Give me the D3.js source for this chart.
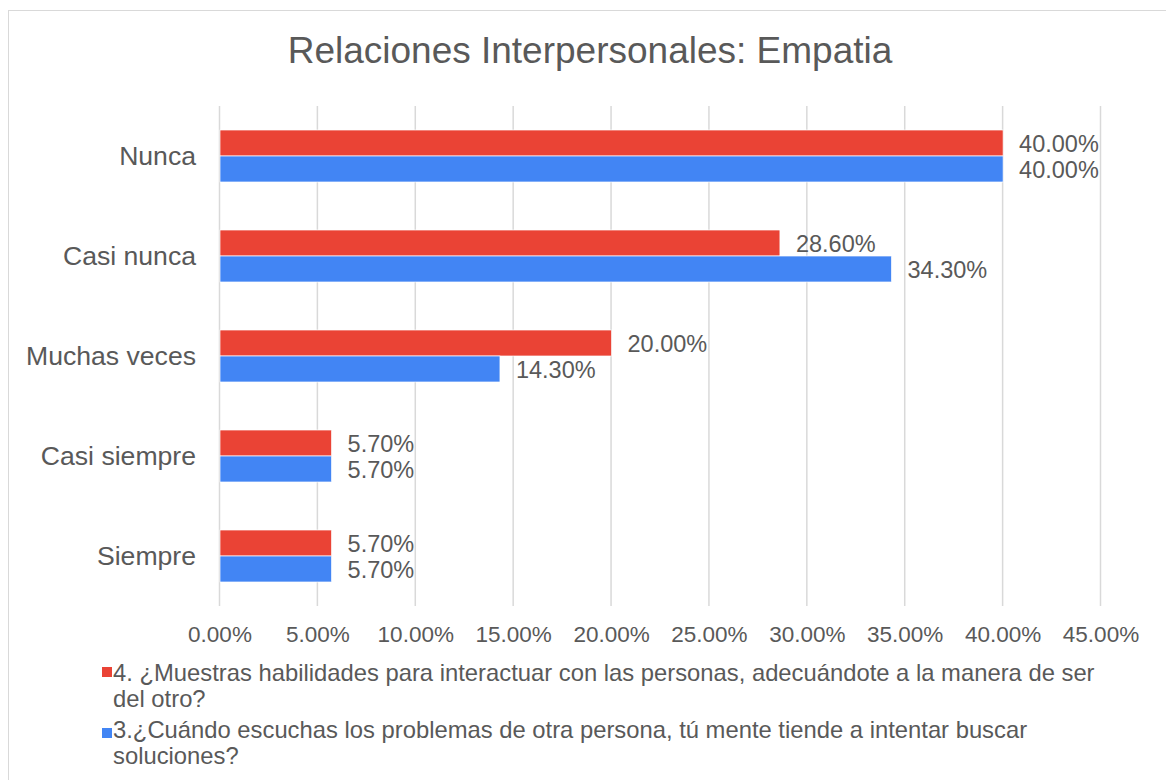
<!DOCTYPE html>
<html>
<head>
<meta charset="utf-8">
<script src="https://cdn.jsdelivr.net/npm/d3@7"></script>
<style>
  body { margin: 0; background: #fff; }
  text { font-family: "Liberation Sans", Arial, sans-serif; fill: #595959; }
</style>
</head>
<body>
<div id="chart"></div>
<script>
// data
var categories = ["Nunca", "Casi nunca", "Muchas veces", "Casi siempre", "Siempre"];
var serie4 = [40.0, 28.6, 20.0, 5.7, 5.7];
var serie3 = [40.0, 34.3, 14.3, 5.7, 5.7];
var seriesNames = [
  ["4. ¿Muestras habilidades para interactuar con las personas, adecuándote a la manera de ser", "del otro?"],
  ["3.¿Cuándo escuchas los problemas de otra persona, tú mente tiende a intentar buscar", "soluciones?"]
];
var colors = ["#EA4335", "#4285F4"];
var xTicks = [0, 5, 10, 15, 20, 25, 30, 35, 40, 45];

var width = 1166, height = 780;
var margin = {top: 106, left: 220, right: 65, bottom: 175};

var svg = d3.select("#chart").append("svg")
  .attr("width", width).attr("height", height);

// chart border
svg.append("rect")
  .attr("x", 8.5).attr("y", 10.5)
  .attr("width", 1166).attr("height", 780)
  .attr("fill", "none").attr("stroke", "#d9d9d9").attr("stroke-width", 1);

svg.append("text")
  .attr("x", 590).attr("y", 63)
  .attr("text-anchor", "middle")
  .attr("font-size", 37)
  .text("Relaciones Interpersonales: Empatia");

var x = d3.scaleLinear().domain([0, 45]).range([margin.left, 1101]);
var y = d3.scaleBand().domain(categories).range([margin.top, 606]).paddingInner(0.48).paddingOuter(0.24);

// grid
svg.append("g").selectAll("line")
  .data(xTicks).enter().append("line")
  .attr("x1", d => x(d) - 0.5).attr("x2", d => x(d) - 0.5)
  .attr("y1", margin.top).attr("y2", 606)
  .attr("stroke", "#d9d9d9").attr("stroke-width", 1.5);

// x tick labels
svg.append("g").selectAll("text")
  .data(xTicks).enter().append("text")
  .attr("x", d => x(d)).attr("y", 642)
  .attr("text-anchor", "middle")
  .attr("font-size", 22.5)
  .text(d => d.toFixed(2) + "%");

// y labels
svg.append("g").selectAll("text")
  .data(categories).enter().append("text")
  .attr("x", 196).attr("y", d => y(d) + y.bandwidth() / 2 + 8.5)
  .attr("text-anchor", "end")
  .attr("font-size", 26.6)
  .text(d => d);

var allSeries = [serie4, serie3];
var bh = y.bandwidth() / 2;

allSeries.forEach(function(vals, s) {
  var g = svg.append("g");
  g.selectAll("rect")
    .data(vals).enter().append("rect")
    .attr("x", x(0))
    .attr("y", (d, i) => y(categories[i]) + s * bh)
    .attr("width", d => x(d) - x(0))
    .attr("height", bh)
    .attr("fill", colors[s])
    .attr("stroke", "#ffffff").attr("stroke-width", 0.7);
  g.selectAll("text")
    .data(vals).enter().append("text")
    .attr("x", d => x(d) + 16)
    .attr("y", (d, i) => y(categories[i]) + s * bh + bh / 2 + 8.5)
    .attr("font-size", 23.5)
    .text(d => d.toFixed(2) + "%");
});

// legend
var legendY = [681, 738];
var squareY = [667, 728];
seriesNames.forEach(function(lines, s) {
  svg.append("rect")
    .attr("x", 102).attr("y", squareY[s])
    .attr("width", 10).attr("height", 10)
    .attr("fill", colors[s]);
  var t = svg.append("text")
    .attr("x", 113).attr("y", legendY[s])
    .attr("font-size", 23.8);
  lines.forEach(function(l, k) {
    t.append("tspan").attr("x", 113).attr("dy", k === 0 ? 0 : 25.5).text(l);
  });
});
</script>
</body>
</html>
